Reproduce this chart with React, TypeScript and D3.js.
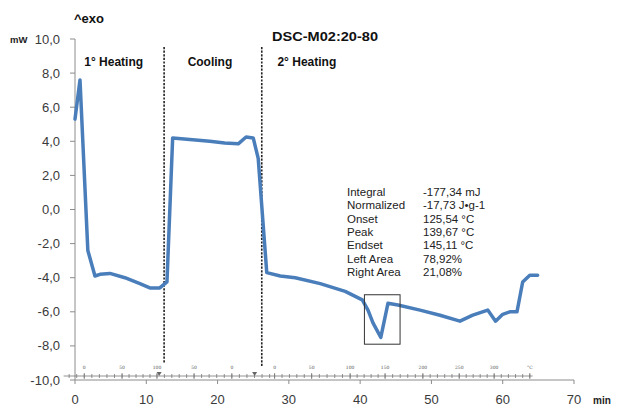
import React from "react";
import * as d3 from "d3";

const timeMin = [0, 0.7, 1.8, 2.8, 3.5, 4.9, 7.0, 9.1, 10.5, 11.9, 12.9, 13.7, 16.1, 18.9, 21.0, 22.9, 24.0, 25.0, 25.7, 26.9, 28.8, 30.9, 34.4, 37.9, 40.3, 41.1, 41.8, 42.9, 43.9, 45.3, 48.4, 51.2, 54.0, 55.8, 57.9, 59.0, 60.0, 61.0, 62.0, 62.8, 63.8, 64.9];
const heatFlow = [5.3, 7.6, -2.4, -3.9, -3.8, -3.75, -4.0, -4.35, -4.6, -4.6, -4.25, 4.2, 4.1, 4.0, 3.9, 3.85, 4.25, 4.2, 3.0, -3.7, -3.9, -4.0, -4.35, -4.8, -5.3, -5.9, -6.65, -7.5, -5.5, -5.6, -5.9, -6.2, -6.55, -6.2, -5.9, -6.55, -6.15, -6.0, -6.0, -4.25, -3.85, -3.85];

const yTicks = [10, 8, 6, 4, 2, 0, -2, -4, -6, -8, -10];
const xTicks = [0, 10, 20, 30, 40, 50, 60, 70];
const sectionLabels = ["1° Heating", "Cooling", "2° Heating"];
const sectionStart = [1.3, 15.8, 28.4];
const dividers = [12.5, 26.2];
const rulerMin = [1.3, 6.6, 11.5, 16.7, 22.0, 28.0, 33.2, 38.6, 43.5, 48.8, 53.9, 58.8, 63.8];
const rulerLabels = ["0", "50", "100", "50", "0", "0", "50", "100", "150", "200", "250", "300", "°C"];
const markers = [11.8, 25.2];
const annoNames = ["Integral", "Normalized", "Onset", "Peak", "Endset", "Left Area", "Right Area"];
const annoValues = ["-177,34 mJ", "-17,73 J•g-1", "125,54 °C", "139,67 °C", "145,11 °C", "78,92%", "21,08%"];
const peakBox = [40.6, 45.6, -5.0, -7.9];

const fmt = (v: number) => v.toFixed(1).replace(".", ",");

export default function App() {
  const W = 617, H = 408;
  const x = d3.scaleLinear().domain([0, 70]).range([75, 574]);
  const y = d3.scaleLinear().domain([-10, 10]).range([380, 39]);
  const line = d3.line<number>().x((_, i) => x(timeMin[i])).y((d) => y(d));
  const axisColor = "#8c8c8c";
  const font = "Liberation Sans, Arial, sans-serif";
  const rulerY = 376;

  const rulerTicks: number[] = [];
  for (let i = 0; i < rulerMin.length - 1; i++) {
    if (i === 4) continue;
    const a = rulerMin[i], b = rulerMin[i + 1];
    for (let k = 0; k < 5; k++) rulerTicks.push(a + ((b - a) * k) / 5);
  }
  rulerTicks.push(rulerMin[rulerMin.length - 1]);
  for (let k = 1; k <= 2; k++) rulerTicks.push(rulerMin[0] - ((rulerMin[1] - rulerMin[0]) * k) / 5);
  {
    const a = rulerMin[4], b = rulerMin[5];
    const step = (rulerMin[1] - rulerMin[0]) / 5;
    for (let t = a; t < b - 0.3; t += step) rulerTicks.push(t);
  }

  return (
    <svg width={W} height={H} style={{ position: "absolute", left: 0, top: 0, background: "#fff" }}>
      <line x1={x(0)} x2={x(0)} y1={y(10)} y2={y(-10)} stroke={axisColor} strokeWidth={1} />
      {yTicks.map((t) => (
        <g key={"y" + t}>
          <line x1={x(0) - 5} x2={x(0)} y1={y(t)} y2={y(t)} stroke={axisColor} />
          <text x={60} y={y(t) + 4.5} textAnchor="end" fontFamily={font} fontSize={13} fill="#3a3a3a">
            {fmt(t)}
          </text>
        </g>
      ))}
      <text x={10} y={y(10) + 4} fontFamily={font} fontSize={9.5} fontWeight="bold" fill="#222">mW</text>
      <text x={74} y={23} fontFamily={font} fontSize={13} fontWeight="bold" fill="#111">^exo</text>
      <text x={272} y={41} fontFamily={font} fontSize={13.5} fontWeight="bold" fill="#111" textLength={106} lengthAdjust="spacingAndGlyphs">DSC-M02:20-80</text>

      <line x1={x(0)} x2={x(70)} y1={380} y2={380} stroke={axisColor} />
      {xTicks.map((t) => (
        <g key={"x" + t}>
          <line x1={x(t)} x2={x(t)} y1={380} y2={384} stroke={axisColor} />
          <text x={x(t)} y={404} textAnchor="middle" fontFamily={font} fontSize={13} fill="#3a3a3a">{t}</text>
        </g>
      ))}
      <text x={593} y={404} fontFamily={font} fontSize={10} fontWeight="bold" fill="#222">min</text>

      <line x1={x(-1.6)} x2={x(64.2)} y1={rulerY} y2={rulerY} stroke="#777" strokeWidth={0.8} />
      {rulerTicks.map((t, i) => (
        <line key={"rt" + i} x1={x(t)} x2={x(t)} y1={rulerY - 2} y2={rulerY + 2} stroke="#777" strokeWidth={0.8} />
      ))}
      {rulerMin.map((t, i) => (
        <g key={"rl" + i}>
          <line x1={x(t)} x2={x(t)} y1={rulerY - 3} y2={rulerY + 3} stroke="#777" strokeWidth={0.8} />
          <text x={x(t)} y={369} textAnchor="middle" fontFamily="DejaVu Serif, serif" fontSize={4.5} fill="#555">{rulerLabels[i]}</text>
        </g>
      ))}
      {markers.map((t, i) => (
        <path key={"m" + i} d={`M${x(t) - 2.5},${rulerY - 4} L${x(t) + 2.5},${rulerY - 4} L${x(t)},${rulerY} Z`} fill="#666" />
      ))}

      {dividers.map((t, i) => (
        <line key={"d" + i} x1={x(t)} x2={x(t)} y1={47} y2={i === 0 ? 363 : 367} stroke="#222" strokeWidth={1.6} strokeDasharray="2.2,1.4" />
      ))}
      {sectionLabels.map((s, i) => (
        <text key={s} x={x(sectionStart[i])} y={66} fontFamily={font} fontSize={12} fontWeight="bold" fill="#111">{s}</text>
      ))}

      <path d={line(heatFlow) || ""} fill="none" stroke="#4a7ebb" strokeWidth={3.5} strokeLinejoin="round" strokeLinecap="round" />

      <rect x={x(peakBox[0])} y={y(peakBox[2])} width={x(peakBox[1]) - x(peakBox[0])} height={y(peakBox[3]) - y(peakBox[2])} fill="none" stroke="#333" strokeWidth={1} />

      {annoNames.map((n, i) => (
        <g key={n}>
          <text x={347} y={196 + i * 13.3} fontFamily={font} fontSize={11.5} fill="#222">{n}</text>
          <text x={423} y={196 + i * 13.3} fontFamily={font} fontSize={11.5} fill="#222">{annoValues[i]}</text>
        </g>
      ))}
    </svg>
  );
}
